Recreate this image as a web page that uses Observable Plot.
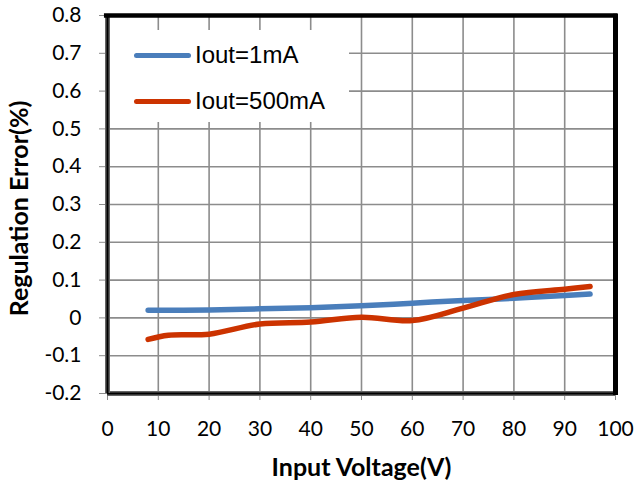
<!DOCTYPE html>
<html>
<head>
<meta charset="utf-8">
<script src="https://cdn.jsdelivr.net/npm/d3@7"></script>
<script src="https://cdn.jsdelivr.net/npm/@observablehq/plot@0.6"></script>
<style>
  html, body { margin: 0; padding: 0; background: #fff; }
  #wrap { position: relative; width: 639px; height: 485px; }
  #legend { position: absolute; left: 110px; top: 30px; width: 239px; height: 92px; background: #fff;
            font-family: "Liberation Sans", Arial, sans-serif; font-size: 24px; color: #000; }
  .row { position: absolute; left: 0; height: 30px; }
  .sw { position: absolute; left: 24px; width: 57px; height: 5px; border-radius: 3px; }
  .lab { position: absolute; left: 85px; white-space: nowrap; line-height: 1; }
</style>
</head>
<body>
<div id="wrap"></div>
<script>
// Data
const voltage1mA = [8, 20, 30, 40, 50, 60, 70, 80, 90, 95];
const error1mA   = [0.020, 0.021, 0.024, 0.027, 0.032, 0.039, 0.046, 0.052, 0.059, 0.063];
const voltage500mA = [8, 12, 20, 30, 40, 50, 60, 70, 80, 90, 95];
const error500mA   = [-0.057, -0.046, -0.043, -0.016, -0.011, 0.002, -0.007, 0.026, 0.062, 0.076, 0.083];
const seriesNames = ["Iout=1mA", "Iout=500mA"];
const seriesColors = ["#4a7ebb", "#cc3300"];
const xTicks = [0, 10, 20, 30, 40, 50, 60, 70, 80, 90, 100];
const yTicks = [-0.2, -0.1, 0, 0.1, 0.2, 0.3, 0.4, 0.5, 0.6, 0.7, 0.8];
const xTitle = "Input Voltage(V)";
const yTitle = "Regulation Error(%)";

const s1 = voltage1mA.map((v, i) => ({v, e: error1mA[i]}));
const s2 = voltage500mA.map((v, i) => ({v, e: error500mA[i]}));

const font = "Lato, 'Open Sans', sans-serif";
const plot = Plot.plot({
  width: 639,
  height: 485,
  marginLeft: 107,
  marginRight: 24,
  marginTop: 15,
  marginBottom: 92,
  style: {fontFamily: font, fontSize: "21px", background: "#fff", color: "#000"},
  x: {domain: [0, 100]},
  y: {domain: [-0.2, 0.8]},
  marks: [
    Plot.gridX(xTicks, {stroke: "#8c8c8c", strokeOpacity: 1, strokeWidth: 1.6}),
    Plot.gridY(yTicks, {stroke: "#8c8c8c", strokeOpacity: 1, strokeWidth: 1.6}),
    Plot.axisX(xTicks, {tickSize: 7, tickPadding: 21, stroke: "#8c8c8c", fill: "#000", tickFormat: d => String(d), label: null, fontSize: 21}),
    Plot.axisY(yTicks, {tickSize: 8, tickPadding: 18, stroke: "#8c8c8c", fill: "#000", tickFormat: d => String(d), label: null, fontSize: 21}),
    Plot.line(s1, {x: "v", y: "e", curve: "catmull-rom", stroke: seriesColors[0], strokeWidth: 5.5, strokeLinecap: "round"}),
    Plot.line(s2, {x: "v", y: "e", curve: "catmull-rom", stroke: seriesColors[1], strokeWidth: 5.5, strokeLinecap: "round"}),
    Plot.ruleY([-0.2], {stroke: "#666", strokeWidth: 5}),
    Plot.ruleY([-0.2], {stroke: "#000", strokeWidth: 2}),
    Plot.ruleX([0], {stroke: "#666", strokeWidth: 5}),
    Plot.ruleX([0], {stroke: "#000", strokeWidth: 2}),
    Plot.ruleY([0.8], {x1: -0.6, x2: 100.5, stroke: "#000", strokeWidth: 4.5}),
    Plot.ruleX([100], {y1: -0.205, y2: 0.803, stroke: "#000", strokeWidth: 5}),
    Plot.text([xTitle], {text: d => d, frameAnchor: "bottom", dy: 74, lineAnchor: "middle", textAnchor: "middle", fontWeight: "bold", fontSize: 25, fill: "#000"}),
    Plot.text([yTitle], {text: d => d, frameAnchor: "left", dx: -88, dy: 4, rotate: -90, lineAnchor: "middle", textAnchor: "middle", fontWeight: "bold", fontSize: 25, fill: "#000"})
  ]
});

const wrap = document.getElementById("wrap");
wrap.appendChild(plot);

const legend = document.createElement("div");
legend.id = "legend";
seriesNames.forEach((name, i) => {
  const row = document.createElement("div");
  row.className = "row";
  row.style.top = (i * 46 + 10) + "px";
  const sw = document.createElement("div");
  sw.className = "sw";
  sw.style.background = seriesColors[i];
  sw.style.top = "13px";
  const lab = document.createElement("div");
  lab.className = "lab";
  lab.style.top = "3px";
  lab.textContent = name;
  row.appendChild(sw);
  row.appendChild(lab);
  legend.appendChild(row);
});
wrap.appendChild(legend);
</script>
</body>
</html>
